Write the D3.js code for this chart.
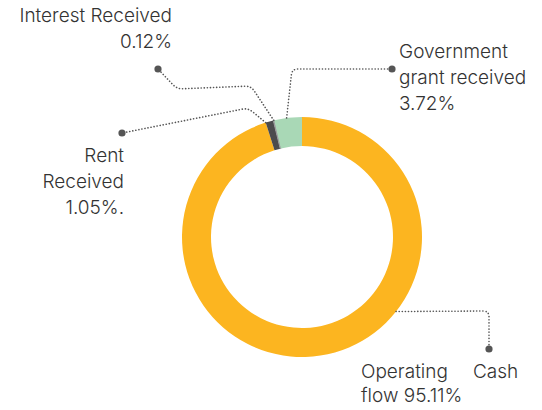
<!DOCTYPE html>
<html>
<head>
<meta charset="utf-8">
<script src="https://cdn.jsdelivr.net/npm/d3@7"></script>
<style>
  body { margin: 0; background: #fff; }
  text { font-family: Inter, "Noto Sans", sans-serif; font-size: 19px; font-weight: 300; fill: #333; }
</style>
</head>
<body>
<svg id="chart"></svg>
<script>
var w = 542;
var h = 410;
var categories = ['Operating Cash flow', 'Rent Received', 'Interest Received', 'Government grant received'];
var values = [95.11, 1.05, 0.12, 3.72];
var colors = ['#FCB520', '#4B4B4D', '#9A9A9C', '#A9D8B6'];

var cx = 302, cy = 237, rOuter = 120, rInner = 91;

var svg = d3.select('#chart').attr('width', w).attr('height', h);

var pie = d3.pie().sort(null).value(function (d) { return d; });
var arcs = pie(values);
var arc = d3.arc().innerRadius(rInner).outerRadius(rOuter);

var g = svg.append('g').attr('transform', 'translate(' + cx + ',' + cy + ')');
g.selectAll('path')
  .data(arcs)
  .enter()
  .append('path')
  .attr('d', arc)
  .attr('fill', function (d, i) { return colors[i]; })
  .attr('stroke', function (d, i) { return i === 2 ? colors[i] : 'none'; })
  .attr('stroke-width', 1);

function pct(v) { return v.toFixed(2) + '%'; }

// where along each slice the leader starts, and the leader's bends and dot
var leaders = [
  {at: 0.375, pts: [[489, 311], [489, 349]]},
  {at: 0.0, pts: [[248, 108], [122, 133]]},
  {at: 0.5, pts: [[251, 86], [177, 89], [158, 69]]},
  {at: 0.45, pts: [[292, 69], [392, 69]]}
];

var labels = [
  [['Operating', 361, 378], ['Cash', 473, 378], ['flow ' + pct(values[0]), 361, 402]],
  [['Rent', 124, 162, 'end'], ['Received', 124, 188, 'end'], [pct(values[1]) + '.', 124, 214, 'end']],
  [['Interest Received', 172, 22, 'end'], [pct(values[2]), 172, 48, 'end']],
  [['Government', 399, 58], ['grant received', 399, 84], [pct(values[3]), 399, 110]]
];

function anchorPoint(d, at) {
  var a = d.startAngle + (d.endAngle - d.startAngle) * at;
  return [cx + rOuter * Math.sin(a), cy - rOuter * Math.cos(a)];
}

function roundedPath(p, rad) {
  var s = 'M' + p[0][0] + ',' + p[0][1];
  for (var i = 1; i < p.length - 1; i++) {
    var a = p[i - 1], b = p[i], c = p[i + 1];
    var d1 = Math.hypot(b[0] - a[0], b[1] - a[1]);
    var d2 = Math.hypot(c[0] - b[0], c[1] - b[1]);
    var r1 = Math.min(rad, d1 / 2), r2 = Math.min(rad, d2 / 2);
    var p1 = [b[0] + (a[0] - b[0]) * r1 / d1, b[1] + (a[1] - b[1]) * r1 / d1];
    var p2 = [b[0] + (c[0] - b[0]) * r2 / d2, b[1] + (c[1] - b[1]) * r2 / d2];
    s += 'L' + p1[0] + ',' + p1[1] + 'Q' + b[0] + ',' + b[1] + ' ' + p2[0] + ',' + p2[1];
  }
  var last = p[p.length - 1];
  return s + 'L' + last[0] + ',' + last[1];
}

leaders.forEach(function (l, i) {
  var pts = [anchorPoint(arcs[i], l.at)].concat(l.pts);
  svg.append('path')
    .attr('d', roundedPath(pts, 6))
    .attr('fill', 'none')
    .attr('stroke', '#555')
    .attr('stroke-width', 1.6)
    .attr('stroke-linecap', 'round')
    .attr('stroke-dasharray', '0.1,3');
  var end = l.pts[l.pts.length - 1];
  svg.append('circle')
    .attr('cx', end[0]).attr('cy', end[1]).attr('r', 3.6)
    .attr('fill', '#555');
});

labels.forEach(function (lines) {
  lines.forEach(function (ln) {
    svg.append('text')
      .attr('x', ln[1])
      .attr('y', ln[2])
      .attr('text-anchor', ln[3] || 'start')
      .text(ln[0]);
  });
});
</script>
</body>
</html>
